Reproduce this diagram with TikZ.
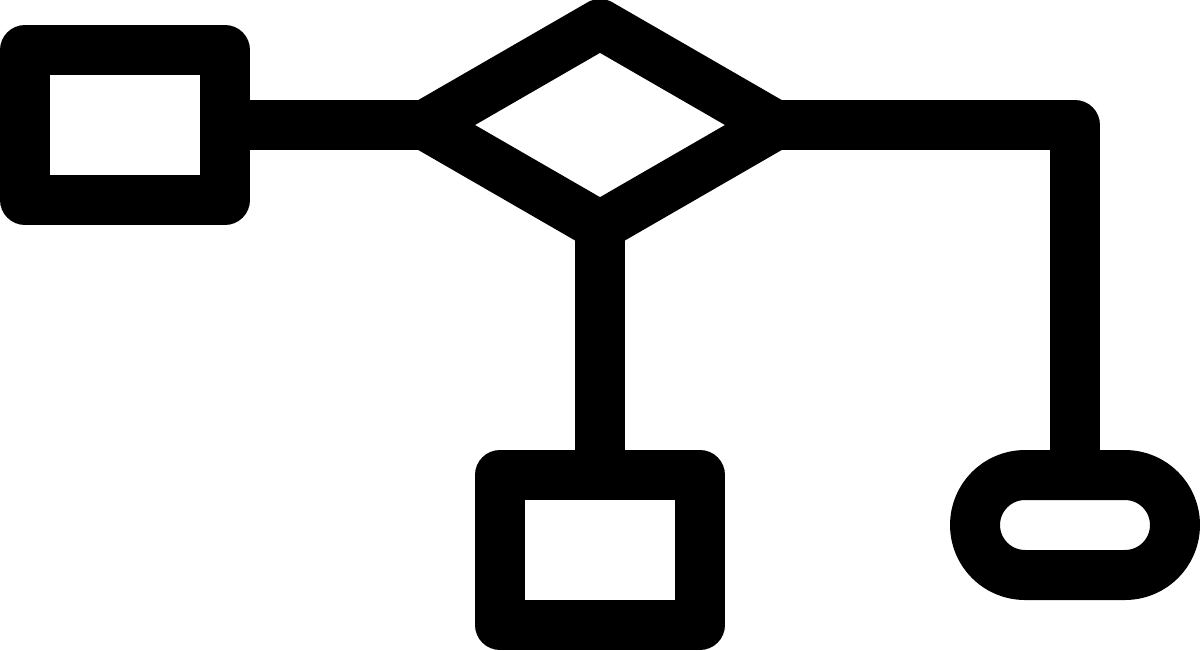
\documentclass[tikz,border=0pt]{standalone}
\usetikzlibrary{shapes.geometric}
\begin{document}
\begin{tikzpicture}[x=0.5pt,y=-0.5pt,
  every path/.style={line width=25pt,line join=round},
  box/.style={draw,rectangle,inner sep=0,outer sep=0,minimum width=100pt,minimum height=75pt},
  dec/.style={draw,diamond,inner sep=0,outer sep=0,minimum width=175pt,minimum height=101pt},
  term/.style={draw,rectangle,rounded corners=25pt,inner sep=0,outer sep=0,minimum width=100pt,minimum height=50pt}]
\useasboundingbox (0,0) rectangle (1200,650);
\node[box] (start) at (125,125) {};
\node[dec] (choice) at (600,125) {};
\node[box] (proc) at (600,550) {};
\node[term] (stop) at (1075,525) {};
\draw (start.east) -- (choice.west);
\draw (choice.south) -- (proc.north);
\draw (choice.east) -| (stop.north);
\end{tikzpicture}
\end{document}
